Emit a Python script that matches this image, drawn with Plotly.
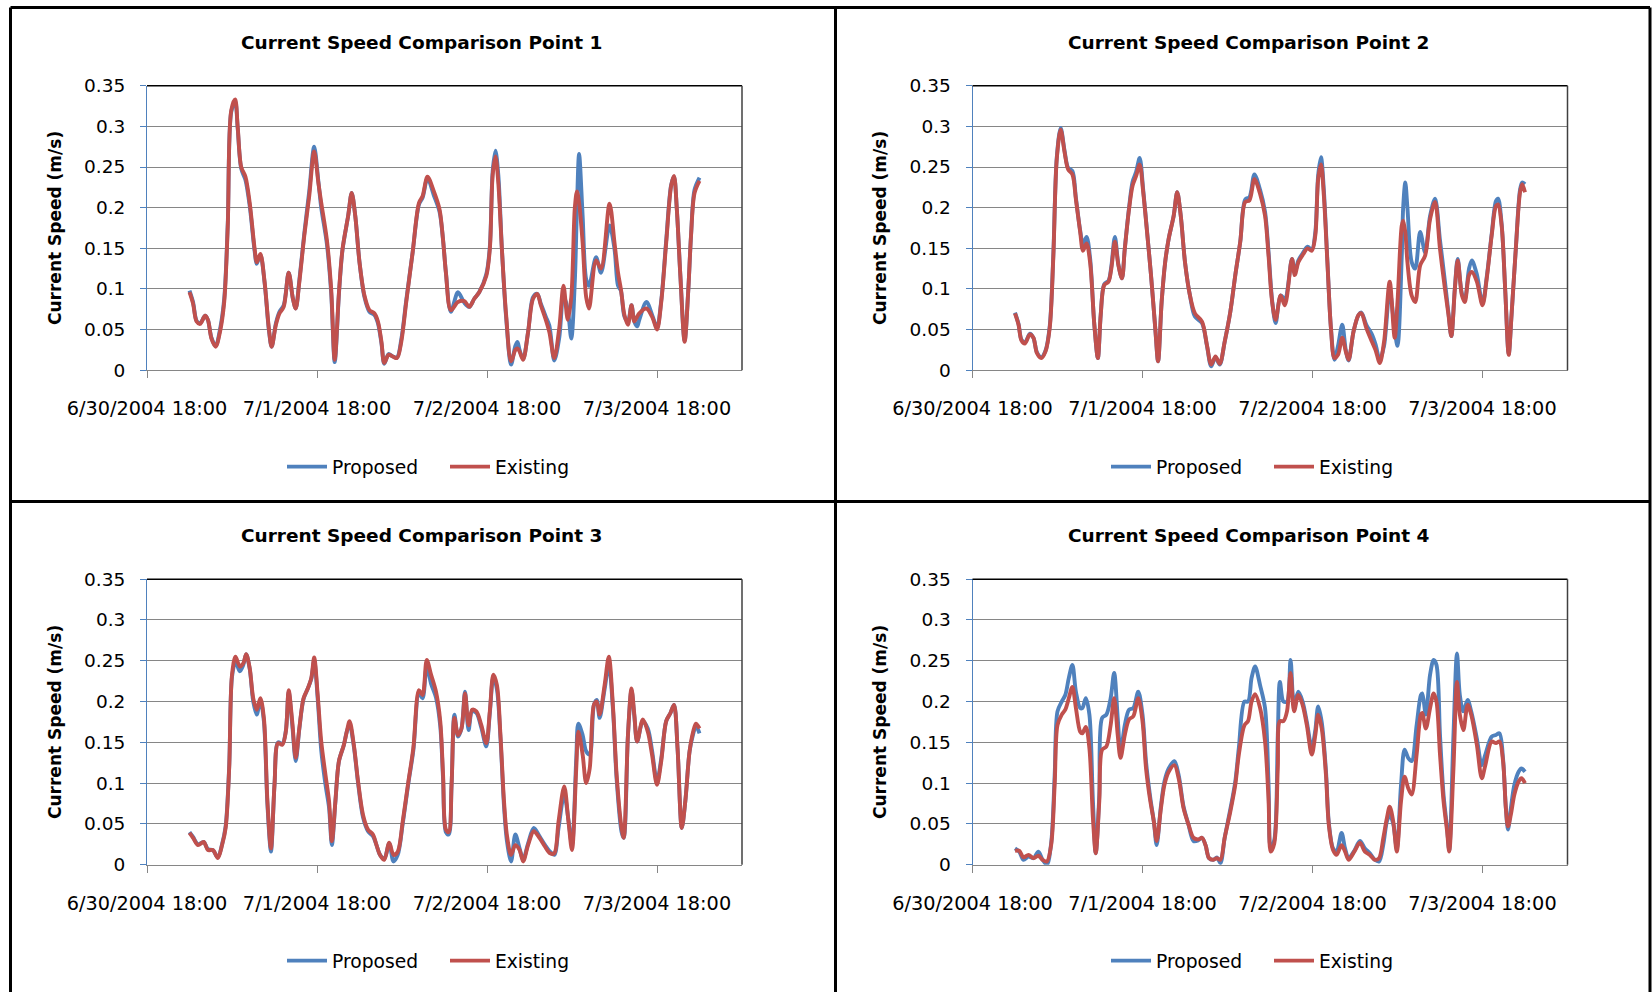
import plotly.graph_objects as go
from datetime import datetime, timedelta

# ---------------- data ----------------
series_names = ["Proposed", "Existing"]
series_colors = ["#4F81BD", "#C0504D"]
panel_titles = ["Current Speed Comparison Point 1", "Current Speed Comparison Point 2",
                "Current Speed Comparison Point 3", "Current Speed Comparison Point 4"]
y_title = "Current Speed (m/s)"
x_tick_times = ["2004-06-30 18:00", "2004-07-01 18:00", "2004-07-02 18:00", "2004-07-03 18:00"]
x_tick_labels = ["6/30/2004 18:00", "7/1/2004 18:00", "7/2/2004 18:00", "7/3/2004 18:00"]
x_range = ["2004-06-30 18:00", "2004-07-04 06:00"]
y_tick_vals = [0, 0.05, 0.1, 0.15, 0.2, 0.25, 0.3, 0.35]
y_tick_labels = ["0", "0.05", "0.1", "0.15", "0.2", "0.25", "0.3", "0.35"]
start_time = datetime(2004, 7, 1, 0, 0)

# hours after 7/1/2004 00:00
p1_hours = [0.0, 0.5, 1.0, 1.5, 2.2, 2.6, 3.1, 3.7, 4.3, 4.9, 5.4, 5.9, 6.45, 6.8, 7.3, 7.9, 8.5, 9.2, 9.5, 10.0,
            10.6, 11.2, 11.6, 12.2, 12.7, 13.3, 14.0, 14.6, 15.0, 15.5, 16.2, 16.9, 17.6, 18.2, 18.6, 19.4, 20.0,
            20.5, 21.1, 21.6, 22.4, 22.9, 23.4, 24.0, 24.7, 25.4, 26.1, 26.6, 27.1, 27.5, 28.1, 28.7, 29.3, 29.9,
            30.6, 31.5, 32.4, 32.9, 33.6, 34.5, 35.3, 35.8, 36.2, 36.9, 37.9, 38.8, 39.5, 40.2, 40.9, 41.9, 42.4,
            42.8, 43.2, 43.6, 44.1, 44.7, 45.4, 46.0, 46.3, 46.6, 47.1, 47.8, 48.5, 49.1, 49.6, 50.3, 50.8, 51.5,
            52.2, 52.8, 53.4, 53.9, 54.4, 54.7, 55.0, 55.5, 56.0, 56.4, 57.4, 58.1, 59.3, 60.0, 60.5, 60.9, 61.4,
            61.9, 62.4, 62.8, 63.2, 63.5, 64.5, 65.4, 66.0, 66.6, 67.3, 68.0, 68.4, 68.8, 69.3, 69.9, 70.4, 70.8,
            71.3, 72.0]
p1_existing = [0.096, 0.082, 0.060, 0.057, 0.067, 0.062, 0.039, 0.029, 0.047, 0.084, 0.177, 0.320, 0.333, 0.300,
               0.250, 0.238, 0.206, 0.149, 0.133, 0.143, 0.109, 0.052, 0.029, 0.056, 0.070, 0.078, 0.120, 0.088,
               0.076, 0.108, 0.165, 0.214, 0.269, 0.230, 0.206, 0.160, 0.100, 0.013, 0.096, 0.149, 0.190, 0.218,
               0.190, 0.133, 0.092, 0.074, 0.070, 0.060, 0.035, 0.009, 0.019, 0.017, 0.015, 0.035, 0.084, 0.145,
               0.206, 0.214, 0.238, 0.220, 0.198, 0.160, 0.120, 0.074, 0.084, 0.085, 0.078, 0.088, 0.096, 0.116,
               0.149, 0.240, 0.263, 0.230, 0.149, 0.068, 0.011, 0.025, 0.027, 0.023, 0.013, 0.047, 0.088, 0.094,
               0.080, 0.062, 0.047, 0.015, 0.052, 0.104, 0.062, 0.090, 0.200, 0.220, 0.206, 0.157, 0.090, 0.076,
               0.135, 0.125, 0.205, 0.157, 0.120, 0.100, 0.068, 0.056, 0.080, 0.060, 0.066, 0.070, 0.076, 0.064,
               0.050, 0.084, 0.157, 0.227, 0.239, 0.198, 0.116, 0.035, 0.096, 0.165, 0.218, 0.233]
p1_proposed = [0.098, 0.084, 0.061, 0.058, 0.067, 0.062, 0.040, 0.030, 0.050, 0.088, 0.180, 0.318, 0.330, 0.298,
               0.248, 0.234, 0.202, 0.146, 0.131, 0.142, 0.108, 0.050, 0.029, 0.058, 0.072, 0.080, 0.120, 0.088,
               0.076, 0.110, 0.168, 0.220, 0.275, 0.232, 0.200, 0.155, 0.095, 0.010, 0.094, 0.148, 0.190, 0.218,
               0.190, 0.133, 0.090, 0.072, 0.068, 0.058, 0.033, 0.008, 0.020, 0.017, 0.016, 0.038, 0.086, 0.145,
               0.204, 0.212, 0.236, 0.215, 0.195, 0.160, 0.120, 0.072, 0.096, 0.083, 0.078, 0.088, 0.096, 0.118,
               0.152, 0.245, 0.270, 0.240, 0.150, 0.065, 0.007, 0.030, 0.035, 0.025, 0.014, 0.047, 0.090, 0.094,
               0.082, 0.066, 0.055, 0.012, 0.040, 0.092, 0.075, 0.039, 0.110, 0.200, 0.266, 0.190, 0.112, 0.104,
               0.139, 0.120, 0.178, 0.149, 0.104, 0.098, 0.066, 0.060, 0.080, 0.060, 0.054, 0.062, 0.084, 0.066,
               0.052, 0.086, 0.160, 0.228, 0.238, 0.198, 0.116, 0.036, 0.096, 0.165, 0.222, 0.237]

p2_hours = [0.0, 0.5, 0.9, 1.4, 2.1, 2.6, 3.1, 3.7, 4.3, 4.9, 5.4, 5.9, 6.45, 7.0, 7.5, 8.1, 8.6, 9.2, 9.6, 10.1,
            10.6, 11.2, 11.7, 12.1, 12.6, 13.2, 13.6, 14.1, 14.6, 15.1, 15.5, 16.1, 16.6, 17.1, 17.6, 18.1, 18.6,
            19.2, 19.8, 20.2, 20.7, 21.2, 21.7, 22.4, 22.9, 23.4, 24.0, 24.7, 25.4, 26.4, 27.1, 27.7, 28.3, 28.9,
            29.6, 30.4, 31.1, 31.8, 32.5, 33.1, 33.8, 34.6, 35.3, 35.8, 36.3, 36.8, 37.5, 38.1, 39.1, 39.5, 40.0,
            40.7, 41.3, 41.9, 42.4, 42.8, 43.2, 43.6, 44.1, 44.6, 45.1, 45.6, 46.2, 46.7, 47.1, 47.8, 48.5, 48.9,
            49.6, 50.4, 50.9, 51.5, 52.1, 52.9, 53.6, 54.0, 54.6, 54.8, 55.1, 55.4, 56.0, 56.5, 57.2, 57.9, 58.6,
            59.3, 60.0, 60.7, 61.2, 61.6, 62.1, 62.5, 63.1, 63.5, 64.1, 64.5, 65.2, 66.0, 66.6, 67.3, 67.9, 68.2,
            68.7, 69.2, 69.7, 70.1, 70.7, 71.3, 71.6, 72.0]
p2_existing = [0.070, 0.056, 0.037, 0.033, 0.044, 0.040, 0.021, 0.015, 0.023, 0.052, 0.137, 0.260, 0.296, 0.268,
               0.247, 0.241, 0.210, 0.170, 0.147, 0.156, 0.133, 0.056, 0.015, 0.068, 0.105, 0.109, 0.125, 0.158,
               0.129, 0.113, 0.149, 0.198, 0.227, 0.239, 0.253, 0.219, 0.174, 0.117, 0.052, 0.011, 0.084, 0.133,
               0.162, 0.190, 0.219, 0.190, 0.133, 0.092, 0.070, 0.060, 0.031, 0.007, 0.017, 0.008, 0.035, 0.072,
               0.117, 0.158, 0.207, 0.209, 0.235, 0.217, 0.190, 0.140, 0.084, 0.062, 0.092, 0.080, 0.137, 0.117,
               0.133, 0.143, 0.150, 0.147, 0.166, 0.235, 0.253, 0.215, 0.133, 0.052, 0.015, 0.019, 0.040, 0.023,
               0.013, 0.048, 0.068, 0.070, 0.052, 0.035, 0.025, 0.009, 0.035, 0.109, 0.040, 0.084, 0.178, 0.184,
               0.170, 0.133, 0.092, 0.084, 0.129, 0.141, 0.186, 0.207, 0.149, 0.100, 0.068, 0.042, 0.100, 0.135,
               0.092, 0.084, 0.117, 0.121, 0.109, 0.080, 0.113, 0.166, 0.202, 0.204, 0.178, 0.100, 0.019, 0.068,
               0.149, 0.219, 0.229, 0.219]
p2_proposed = [0.071, 0.057, 0.038, 0.034, 0.045, 0.040, 0.022, 0.016, 0.024, 0.054, 0.140, 0.262, 0.298, 0.270,
               0.249, 0.245, 0.212, 0.172, 0.155, 0.164, 0.138, 0.056, 0.015, 0.068, 0.106, 0.110, 0.128, 0.164,
               0.130, 0.113, 0.150, 0.200, 0.232, 0.244, 0.261, 0.222, 0.175, 0.117, 0.052, 0.011, 0.084, 0.133,
               0.162, 0.190, 0.219, 0.190, 0.133, 0.092, 0.066, 0.058, 0.030, 0.005, 0.016, 0.007, 0.035, 0.072,
               0.117, 0.158, 0.210, 0.213, 0.241, 0.222, 0.195, 0.145, 0.086, 0.058, 0.092, 0.088, 0.137, 0.120,
               0.135, 0.145, 0.152, 0.148, 0.170, 0.240, 0.262, 0.222, 0.135, 0.052, 0.013, 0.030, 0.056, 0.025,
               0.012, 0.048, 0.068, 0.071, 0.056, 0.044, 0.032, 0.013, 0.030, 0.097, 0.050, 0.030, 0.140, 0.200,
               0.231, 0.200, 0.133, 0.125, 0.170, 0.145, 0.190, 0.211, 0.160, 0.109, 0.070, 0.042, 0.102, 0.137,
               0.094, 0.088, 0.125, 0.135, 0.118, 0.082, 0.115, 0.168, 0.208, 0.211, 0.180, 0.100, 0.020, 0.068,
               0.149, 0.222, 0.231, 0.229]

p3_hours = [0.0, 0.5, 1.2, 2.0, 2.6, 3.3, 4.0, 4.6, 5.1, 5.6, 6.0, 6.5, 7.1, 7.6, 8.0, 8.5, 9.0, 9.5, 10.0, 10.5,
            11.0, 11.5, 12.0, 12.5, 13.1, 13.6, 14.0, 14.5, 15.0, 15.5, 16.1, 16.7, 17.2, 17.6, 18.1, 18.6, 19.2,
            19.7, 20.1, 20.6, 21.1, 21.8, 22.2, 22.6, 23.2, 23.8, 24.5, 25.2, 25.9, 26.4, 26.9, 27.5, 28.2, 28.8,
            29.4, 30.1, 30.9, 31.6, 32.4, 32.9, 33.5, 34.1, 34.8, 35.4, 35.8, 36.2, 36.6, 37.0, 37.4, 37.9, 38.4,
            38.9, 39.4, 39.9, 40.5, 41.2, 41.9, 42.4, 42.9, 43.4, 43.9, 44.4, 44.8, 45.4, 46.0, 46.6, 47.1, 47.8,
            48.6, 49.4, 50.2, 50.9, 51.5, 52.1, 52.9, 53.5, 54.0, 54.6, 54.9, 55.5, 56.0, 56.5, 57.1, 57.5, 57.9,
            58.6, 59.2, 59.8, 60.3, 61.0, 61.3, 61.9, 62.4, 62.8, 63.2, 64.0, 64.7, 65.3, 66.0, 66.6, 67.3, 67.9,
            68.4, 68.9, 69.5, 70.0, 70.6, 71.1, 71.5, 72.0]
p3_existing = [0.039, 0.033, 0.024, 0.028, 0.018, 0.018, 0.008, 0.024, 0.045, 0.118, 0.233, 0.255, 0.243, 0.247,
               0.258, 0.241, 0.204, 0.190, 0.204, 0.180, 0.078, 0.020, 0.098, 0.149, 0.147, 0.163, 0.214, 0.176,
               0.131, 0.167, 0.204, 0.216, 0.229, 0.254, 0.208, 0.151, 0.110, 0.078, 0.029, 0.078, 0.127, 0.147,
               0.163, 0.176, 0.147, 0.102, 0.061, 0.043, 0.037, 0.024, 0.012, 0.006, 0.027, 0.012, 0.016, 0.053,
               0.102, 0.143, 0.214, 0.208, 0.251, 0.233, 0.212, 0.176, 0.110, 0.043, 0.040, 0.098, 0.180, 0.159,
               0.167, 0.210, 0.171, 0.190, 0.188, 0.171, 0.149, 0.188, 0.233, 0.220, 0.159, 0.078, 0.037, 0.012,
               0.024, 0.018, 0.004, 0.024, 0.041, 0.033, 0.022, 0.014, 0.014, 0.053, 0.096, 0.053, 0.018, 0.118,
               0.163, 0.135, 0.100, 0.118, 0.196, 0.200, 0.184, 0.220, 0.255, 0.192, 0.110, 0.045, 0.033, 0.159,
               0.216, 0.184, 0.151, 0.178, 0.163, 0.135, 0.098, 0.127, 0.176, 0.186, 0.196, 0.143, 0.045, 0.078,
               0.139, 0.163, 0.173, 0.167]
p3_proposed = [0.040, 0.034, 0.025, 0.028, 0.019, 0.018, 0.009, 0.025, 0.047, 0.120, 0.230, 0.249, 0.237, 0.245,
               0.258, 0.240, 0.200, 0.184, 0.202, 0.176, 0.074, 0.016, 0.098, 0.150, 0.148, 0.164, 0.212, 0.172,
               0.127, 0.166, 0.203, 0.216, 0.228, 0.250, 0.203, 0.140, 0.098, 0.070, 0.024, 0.078, 0.127, 0.147,
               0.163, 0.172, 0.145, 0.100, 0.058, 0.041, 0.035, 0.024, 0.012, 0.007, 0.026, 0.004, 0.012, 0.050,
               0.100, 0.140, 0.210, 0.204, 0.243, 0.222, 0.205, 0.170, 0.105, 0.040, 0.037, 0.098, 0.184, 0.157,
               0.167, 0.212, 0.165, 0.188, 0.186, 0.168, 0.145, 0.186, 0.230, 0.215, 0.155, 0.072, 0.030, 0.004,
               0.037, 0.020, 0.006, 0.026, 0.045, 0.035, 0.024, 0.016, 0.012, 0.045, 0.086, 0.055, 0.024, 0.130,
               0.173, 0.159, 0.139, 0.135, 0.196, 0.202, 0.180, 0.215, 0.245, 0.188, 0.105, 0.040, 0.033, 0.159,
               0.214, 0.182, 0.151, 0.176, 0.167, 0.140, 0.102, 0.130, 0.176, 0.186, 0.196, 0.143, 0.045, 0.078,
               0.139, 0.160, 0.170, 0.161]

p4_hours = [0.0, 0.6, 1.2, 1.9, 2.6, 3.3, 3.9, 4.5, 5.1, 5.6, 6.0, 6.6, 7.1, 7.6, 8.1, 8.6, 9.2, 9.5, 10.0, 10.5,
            11.0, 11.4, 11.9, 12.3, 12.9, 13.5, 14.0, 14.5, 14.9, 15.5, 16.1, 16.7, 17.4, 18.0, 18.5, 19.1, 19.6,
            20.0, 20.6, 21.1, 21.7, 22.5, 23.1, 23.8, 24.5, 25.2, 25.9, 26.4, 26.9, 27.4, 28.0, 28.5, 29.0, 29.6,
            30.4, 31.1, 31.6, 32.4, 32.9, 33.4, 33.9, 34.6, 35.3, 35.8, 36.1, 36.6, 37.1, 37.4, 37.9, 38.4, 38.9,
            39.4, 40.0, 40.6, 41.2, 41.9, 42.4, 42.8, 43.3, 43.9, 44.3, 44.9, 45.4, 46.1, 46.6, 47.1, 47.9, 48.7,
            49.4, 50.1, 50.8, 51.4, 52.0, 52.5, 52.9, 53.4, 53.9, 54.5, 55.0, 55.5, 56.0, 56.7, 57.3, 57.5, 58.0,
            58.6, 59.1, 59.5, 60.0, 60.5, 61.0, 61.3, 61.9, 62.4, 62.8, 63.3, 63.9, 64.4, 65.2, 65.9, 66.4, 67.3,
            67.9, 68.4, 68.9, 69.3, 69.6, 70.0, 70.5, 71.1, 71.5, 72.0]
p4_existing = [0.017, 0.017, 0.009, 0.012, 0.008, 0.011, 0.006, 0.004, 0.024, 0.098, 0.171, 0.184, 0.190, 0.204,
               0.218, 0.192, 0.163, 0.161, 0.169, 0.143, 0.057, 0.014, 0.078, 0.141, 0.145, 0.171, 0.204, 0.159,
               0.131, 0.159, 0.178, 0.182, 0.204, 0.176, 0.118, 0.078, 0.053, 0.029, 0.069, 0.098, 0.114, 0.122,
               0.106, 0.069, 0.049, 0.033, 0.031, 0.033, 0.024, 0.008, 0.006, 0.008, 0.006, 0.033, 0.065, 0.098,
               0.135, 0.171, 0.176, 0.200, 0.209, 0.192, 0.151, 0.078, 0.016, 0.026, 0.118, 0.176, 0.176, 0.188,
               0.235, 0.188, 0.208, 0.196, 0.171, 0.135, 0.159, 0.184, 0.167, 0.110, 0.049, 0.018, 0.012, 0.024,
               0.016, 0.006, 0.016, 0.027, 0.016, 0.012, 0.006, 0.008, 0.033, 0.057, 0.071, 0.053, 0.016, 0.078,
               0.108, 0.094, 0.086, 0.135, 0.184, 0.186, 0.167, 0.192, 0.210, 0.200, 0.135, 0.078, 0.041, 0.016,
               0.118, 0.224, 0.184, 0.165, 0.196, 0.184, 0.147, 0.106, 0.122, 0.151, 0.149, 0.151, 0.127, 0.069,
               0.047, 0.061, 0.086, 0.102, 0.106, 0.100]
p4_proposed = [0.020, 0.016, 0.006, 0.010, 0.008, 0.016, 0.006, 0.000, 0.026, 0.110, 0.188, 0.200, 0.208, 0.229,
               0.245, 0.212, 0.192, 0.192, 0.204, 0.184, 0.078, 0.014, 0.085, 0.180, 0.184, 0.204, 0.235, 0.180,
               0.137, 0.171, 0.190, 0.192, 0.212, 0.184, 0.126, 0.082, 0.053, 0.024, 0.072, 0.102, 0.118, 0.127,
               0.110, 0.071, 0.049, 0.029, 0.030, 0.033, 0.024, 0.008, 0.006, 0.009, 0.002, 0.033, 0.068, 0.102,
               0.143, 0.200, 0.200, 0.229, 0.243, 0.220, 0.192, 0.098, 0.020, 0.030, 0.159, 0.224, 0.200, 0.200,
               0.251, 0.196, 0.212, 0.200, 0.175, 0.143, 0.165, 0.194, 0.175, 0.115, 0.052, 0.020, 0.016, 0.039,
               0.020, 0.008, 0.017, 0.029, 0.020, 0.014, 0.006, 0.004, 0.025, 0.053, 0.061, 0.050, 0.020, 0.098,
               0.141, 0.131, 0.127, 0.171, 0.208, 0.210, 0.184, 0.233, 0.251, 0.245, 0.159, 0.086, 0.045, 0.018,
               0.159, 0.259, 0.208, 0.188, 0.202, 0.188, 0.155, 0.122, 0.135, 0.157, 0.159, 0.161, 0.130, 0.069,
               0.043, 0.069, 0.098, 0.114, 0.118, 0.114]

panels = [
    (p1_hours, p1_proposed, p1_existing),
    (p2_hours, p2_proposed, p2_existing),
    (p3_hours, p3_proposed, p3_existing),
    (p4_hours, p4_proposed, p4_existing),
]

# ---------------- layout geometry (pixels of a 1652x992 page) ----------------
W, H = 1652, 992
FONT = "'DejaVu Sans', sans-serif"
plot_x = [(147, 742), (972.5, 1567.5), (147, 742), (972.5, 1567.5)]
plot_y = [(85.7, 370.3), (85.7, 370.3), (579.2, 864.7), (579.2, 864.7)]
title_pos = [(421.5, 42), (1248.5, 42), (421.5, 535), (1248.5, 535)]
ytitle_pos = [(55, 228), (880, 228), (55, 722), (880, 722)]
legend_pos = [(445, 467), (1269, 467), (445, 961), (1269, 961)]


def px(x):
    return x / W


def py(y):
    return 1 - y / H


fig = go.Figure()
layout = dict(
    width=W, height=H,
    margin=dict(l=0, r=0, t=0, b=0, pad=0, autoexpand=False),
    paper_bgcolor="white", plot_bgcolor="white",
    font=dict(family=FONT, color="#000000", size=18.5),
    annotations=[], shapes=[],
)

for i, (hours, proposed, existing) in enumerate(panels):
    k = "" if i == 0 else str(i + 1)
    times = [start_time + timedelta(hours=h) for h in hours]
    leg = "legend" + k
    for name, color, vals in zip(series_names, series_colors, [proposed, existing]):
        fig.add_trace(go.Scatter(
            x=times, y=vals, mode="lines", name=name,
            line=dict(color=color, width=3.9, shape="spline", smoothing=0.9),
            xaxis="x" + k, yaxis="y" + k, legend=leg, showlegend=True,
        ))
    x0, x1 = plot_x[i]
    y0, y1 = plot_y[i]
    layout["xaxis" + k] = dict(
        domain=[px(x0), px(x1)], anchor="y" + k, type="date", range=x_range, automargin=False,
        tickmode="array", tickvals=x_tick_times, ticktext=x_tick_labels,
        showgrid=False, zeroline=False, showline=True, linecolor="#868686", linewidth=1,
        ticks="outside", ticklen=7, tickcolor="#868686", tickwidth=1,
        ticklabelstandoff=14, tickfont=dict(family=FONT, size=19.3, color="#000000"),
    )
    layout["yaxis" + k] = dict(
        domain=[py(y1), py(y0)], anchor="x" + k, range=[0, 0.35], automargin=False,
        tickmode="array", tickvals=y_tick_vals, ticktext=y_tick_labels,
        showgrid=True, gridcolor="#868686", gridwidth=1, zeroline=False,
        showline=True, linecolor="#4F81BD", linewidth=1,
        ticks="outside", ticklen=6, tickcolor="#4F81BD", tickwidth=1,
        ticklabelstandoff=11, tickfont=dict(family=FONT, size=18.5, color="#000000"),
    )
    # plot-area frame (top and right)
    layout["shapes"].append(dict(type="line", xref="x" + k + " domain", yref="y" + k + " domain",
                                 x0=0, x1=1, y0=1, y1=1, line=dict(color="#000000", width=1.5)))
    layout["shapes"].append(dict(type="line", xref="x" + k + " domain", yref="y" + k + " domain",
                                 x0=1, x1=1, y0=0, y1=1, line=dict(color="#404040", width=1.5)))
    tx, ty = title_pos[i]
    layout["annotations"].append(dict(
        text="<b>" + panel_titles[i] + "</b>", x=px(tx), y=py(ty), xref="paper", yref="paper",
        xanchor="center", yanchor="middle", showarrow=False,
        font=dict(family=FONT, size=18.5, color="#000000")))
    ax, ay = ytitle_pos[i]
    layout["annotations"].append(dict(
        text="<b>" + y_title + "</b>", x=px(ax), y=py(ay), xref="paper", yref="paper",
        xanchor="center", yanchor="middle", showarrow=False, textangle=-90,
        font=dict(family=FONT, size=17, color="#000000")))
    lx, ly = legend_pos[i]
    layout[leg] = dict(
        orientation="h", x=px(lx), y=py(ly), xanchor="center", yanchor="middle",
        xref="paper", yref="paper", bgcolor="rgba(0,0,0,0)", borderwidth=0,
        font=dict(family=FONT, size=18.7, color="#000000"), traceorder="normal",
        itemwidth=40, tracegroupgap=0, entrywidth=108, entrywidthmode="pixels",
    )

# panel borders
border = dict(color="#000000", width=3)
for (a, b, c, d) in [(10.5, 7.4, 1650, 7.4), (10.5, 7.4, 10.5, 1000), (835.5, 7.4, 835.5, 1000),
                     (1650, 7.4, 1650, 1000), (10.5, 501.5, 1650, 501.5)]:
    layout["shapes"].append(dict(type="line", xref="paper", yref="paper",
                                 x0=px(a), y0=py(b), x1=px(c), y1=py(d), line=border))

fig.update_layout(**layout)
fig.write_html("out.html", config={"displayModeBar": False},
               post_script="document.body.style.margin='0';document.body.style.overflow='hidden';")
